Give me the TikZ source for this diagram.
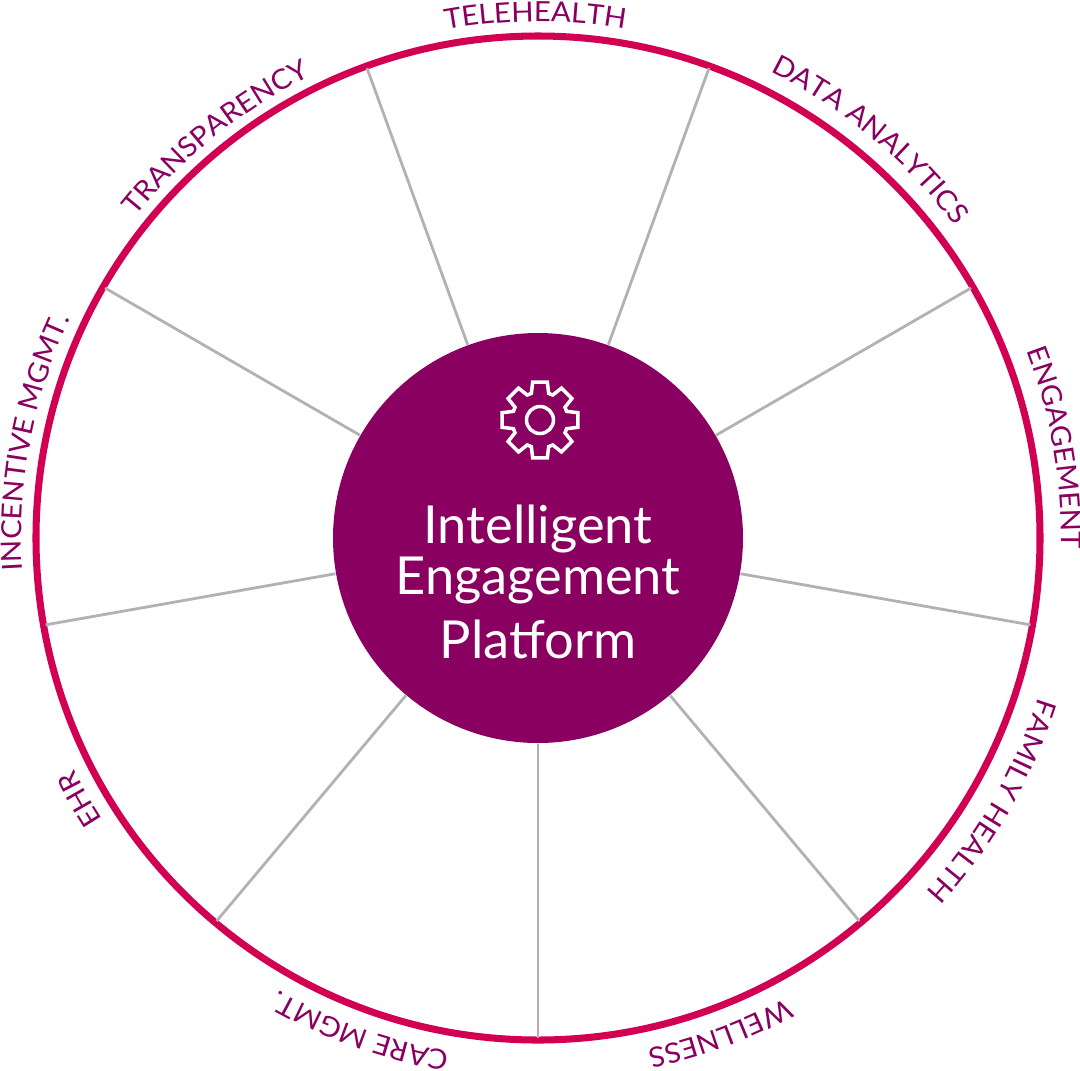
\documentclass[tikz,border=0pt]{standalone}
\usepackage{fontspec}
\setmainfont{Lato}
\newfontfamily\labelfam[FakeStretch=1.055]{Lato}
\usepackage{tikz}
\usetikzlibrary{decorations.text}
\definecolor{hubpurple}{RGB}{137,0,96}
\definecolor{rimred}{RGB}{210,0,82}
\definecolor{spokegray}{RGB}{178,178,178}
\newcommand{\labelfont}{\labelfam\fontsize{7.9}{8}\selectfont}
\tikzstyle{hub_node} = [
    circle, 
    fill=hubpurple, 
    inner sep=0pt, 
    minimum size=4.10cm
]
\tikzstyle{rim_node} = [
    circle, 
    draw=rimred, 
    line width=2pt, 
    inner sep=0pt, 
    minimum size=10.04cm
]
\tikzstyle{hub_text} = [
    white, 
    align=center, 
    inner sep=0pt, 
    font=\fontsize{14.9}{14.5}\selectfont
]
\tikzstyle{spoke} = [
    draw=spokegray, 
    line width=0.8pt
]
\tikzstyle{gear} = [
    draw=white, 
    line width=1pt, 
    line join=miter
]

\begin{document}
\begin{tikzpicture}
\useasboundingbox (-5.38,-5.32) rectangle (5.42,5.38);
\node [rim_node] (rim) at (0,0) {};

% spokes run from the hub out to the rim
\foreach \a in {70,30,...,-250} {
    \coordinate (rim\a) at (\a:5.0);
}
\node [hub_node] (hub) at (0,0) {};
\foreach \a in {70,30,...,-250} {
    \draw [spoke] (hub.\a) -- (rim\a);
}

% labels follow the rim clockwise
\foreach \a/\r/\t in {
    90.3/5.165/TELEHEALTH, 50.2/5.21/DATA ANALYTICS, 9.9/5.235/ENGAGEMENT,
    -30/5.25/FAMILY HEALTH, -69.8/5.225/WELLNESS, -109.8/5.215/CARE MGMT.,
    -150.3/5.185/EHR, -190.8/5.165/INCENTIVE MGMT., -231.6/5.15/TRANSPARENCY
} {
    \path [
        decorate,
        decoration={
            text along path,
            text align=center,
            text={|\labelfont\color{hubpurple}|\t}
        }
    ] (\a+28:\r) arc (\a+28:\a-28:\r);
}

% gear
\begin{scope}[shift={(0.02,1.18)}]
    \draw [gear] (-18:0.28)
        \foreach \a in {0,45,...,315} {
            -- (\a-18:0.28) -- (\a-11:0.385) -- (\a+11:0.385) -- (\a+18:0.28)
        } -- cycle;
    \draw [gear] (0,0) circle (0.135);
\end{scope}

\node [hub_text] (title) at (0,-0.435) {Intelligent\\Engagement\\[3.7pt]Platform};
\end{tikzpicture}
\end{document}
